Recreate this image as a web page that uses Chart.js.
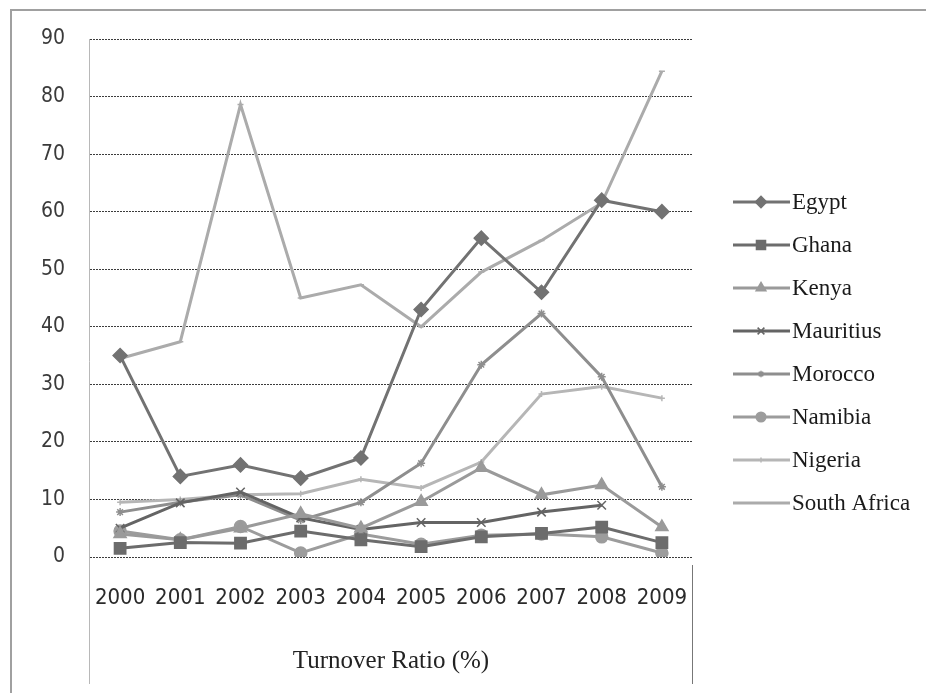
<!DOCTYPE html>
<html>
<head>
<meta charset="utf-8">
<script src="https://cdn.jsdelivr.net/npm/chart.js@4/dist/chart.umd.min.js"></script>
<style>
  html, body { margin: 0; padding: 0; background: #fff; }
  #wrap { width: 926px; height: 693px; position: relative; }
</style>
</head>
<body>
<div id="wrap"><canvas id="c" width="926" height="693"></canvas></div>
<script>
// Stock market turnover ratio (%) by country, 2000-2009
const years = ['2000', '2001', '2002', '2003', '2004', '2005', '2006', '2007', '2008', '2009'];
const yTicks = [0, 10, 20, 30, 40, 50, 60, 70, 80, 90];

const egypt       = [35, 14, 16, 13.7, 17.2, 43, 55.4, 46, 62, 60];
const ghana       = [1.5, 2.5, 2.4, 4.5, 3, 1.8, 3.5, 4.1, 5.2, 2.5];
const kenya       = [4, 3, 5, 7.5, 5, 9.6, 15.5, 10.8, 12.5, 5.2];
const mauritius   = [5, 9.4, 11.3, 6.8, 4.8, 6, 6, 7.8, 9, null];
const morocco     = [7.8, 9.5, 10.8, 6.4, 9.5, 16.3, 33.4, 42.3, 31.3, 12.2];
const namibia     = [4.5, 3, 5.3, 0.7, 4, 2.2, 3.8, 4, 3.5, 0.7];
const nigeria     = [9.5, 10, 10.8, 11, 13.5, 12, 16.5, 28.3, 29.6, 27.6];
const southAfrica = [34.5, 37.4, 78.6, 45, 47.3, 40, 49.5, 55, 61.5, 84.4];

const seriesNames = ['Egypt', 'Ghana', 'Kenya', 'Mauritius', 'Morocco', 'Namibia', 'Nigeria', 'South Africa'];
const seriesData = [egypt, ghana, kenya, mauritius, morocco, namibia, nigeria, southAfrica];

const styles = [
  { color: '#727272', point: 'rectRot',  r: 7 },
  { color: '#6c6c6c', point: 'rect',     r: 8 },
  { color: '#9a9a9a', point: 'triangle', r: 7 },
  { color: '#646464', point: 'crossRot', r: 6 },
  { color: '#8e8e8e', point: 'star',     r: 4 },
  { color: '#9c9c9c', point: 'circle',   r: 6 },
  { color: '#b6b6b6', point: 'cross',    r: 3 },
  { color: '#ababab', point: 'line',     r: 3 }
];

const datasets = seriesNames.map((name, i) => ({
  label: name,
  data: seriesData[i],
  borderColor: styles[i].color,
  backgroundColor: styles[i].color,
  borderWidth: 3,
  pointStyle: styles[i].point,
  pointRadius: styles[i].r,
  pointBorderWidth: 1.5,
  pointBorderColor: styles[i].color,
  pointBackgroundColor: styles[i].color,
  tension: 0,
  spanGaps: false
}));

// Frame, axis line and divider lines below the category axis
const framePlugin = {
  id: 'frame',
  beforeDraw(chart) {
    const { ctx, chartArea: { left, right, top, bottom } } = chart;
    ctx.save();
    ctx.fillStyle = '#fff';
    ctx.fillRect(0, 0, chart.width, chart.height);
    ctx.strokeStyle = '#a0a0a0';
    ctx.lineWidth = 2;
    ctx.beginPath();
    ctx.moveTo(11, chart.height);
    ctx.lineTo(11, 10);
    ctx.lineTo(chart.width, 10);
    ctx.stroke();
    ctx.lineWidth = 1;
    ctx.strokeStyle = '#b8b8b8';
    ctx.beginPath();
    ctx.moveTo(left - 0.5, top);
    ctx.lineTo(left - 0.5, 684);
    ctx.stroke();
    ctx.strokeStyle = '#777';
    ctx.beginPath();
    ctx.moveTo(right + 0.5, bottom + 8);
    ctx.lineTo(right + 0.5, 684);
    ctx.stroke();
    ctx.restore();
  }
};

// Legend on the right: line sample with marker, followed by the name
const sideLegend = {
  id: 'sideLegend',
  afterDraw(chart) {
    const ctx = chart.ctx;
    const drawPoint = Chart.helpers && Chart.helpers.drawPoint;
    ctx.save();
    chart.data.datasets.forEach((ds, i) => {
      const y = 202 + i * 43;
      ctx.strokeStyle = ds.borderColor;
      ctx.lineWidth = 3;
      ctx.beginPath();
      ctx.moveTo(733, y);
      ctx.lineTo(790, y);
      ctx.stroke();
      if (drawPoint) {
        ctx.fillStyle = ds.pointBackgroundColor;
        ctx.strokeStyle = ds.pointBorderColor;
        ctx.lineWidth = ds.pointBorderWidth;
        drawPoint(ctx, { pointStyle: ds.pointStyle, rotation: 0, radius: ds.pointRadius * 0.8, borderWidth: ds.pointBorderWidth }, 761, y);
      }
      ctx.fillStyle = '#1a1a1a';
      ctx.font = '23px "Liberation Serif", "DejaVu Serif", serif';
      ctx.textBaseline = 'middle';
      ctx.textAlign = 'left';
      ctx.fillText(ds.label, 792, y + 1);
    });
    ctx.restore();
  }
};

new Chart(document.getElementById('c'), {
  type: 'line',
  data: { labels: years, datasets },
  plugins: [framePlugin, sideLegend],
  options: {
    responsive: false,
    animation: false,
    events: [],
    layout: { padding: { top: 39, right: 234, bottom: 0, left: 0 } },
    plugins: {
      legend: { display: false },
      tooltip: { enabled: false }
    },
    scales: {
      x: {
        type: 'category',
        offset: true,
        grid: { display: false, drawTicks: false },
        border: { display: false },
        ticks: {
          padding: 28,
          maxRotation: 0,
          autoSkip: false,
          color: '#2a2a2a',
          font: { family: '"DejaVu Sans Condensed", "Liberation Sans Narrow", "DejaVu Sans", sans-serif', size: 22 }
        },
        title: {
          display: true,
          text: 'Turnover Ratio (%)',
          color: '#222',
          padding: { top: 0, bottom: 17 },
          font: { family: '"Liberation Serif", "DejaVu Serif", serif', size: 25 }
        },
        afterFit(scale) { scale.height = 136; }
      },
      y: {
        min: 0,
        max: 90,
        afterBuildTicks(scale) { scale.ticks = yTicks.map(v => ({ value: v })); },
        grid: { color: '#3c3c3c', lineWidth: 1, drawTicks: false },
        border: { display: false, dash: [2, 1] },
        ticks: {
          padding: 25,
          color: '#3a3a3a',
          font: { family: '"DejaVu Sans Condensed", "Liberation Sans Narrow", "DejaVu Sans", sans-serif', size: 21 }
        },
        afterFit(scale) { scale.width = 90; }
      }
    }
  }
});
</script>
</body>
</html>
